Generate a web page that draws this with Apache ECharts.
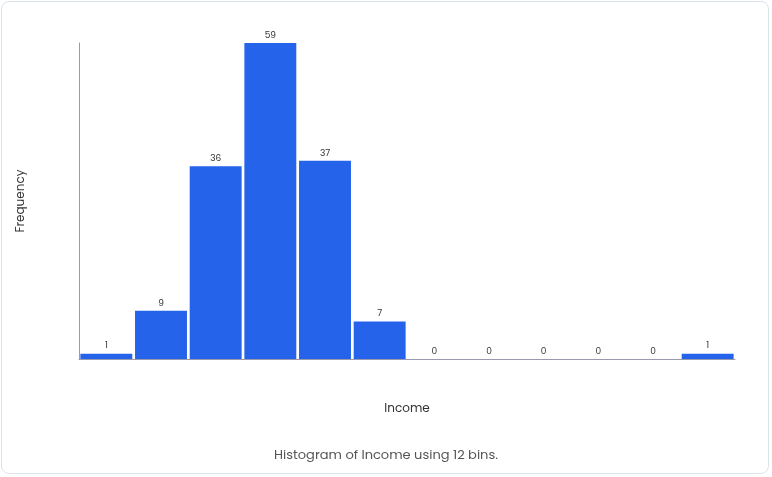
<!DOCTYPE html>
<html><head><meta charset="utf-8">
<script src="https://cdn.jsdelivr.net/npm/echarts@6/dist/echarts.min.js"></script>
<style>
html,body{margin:0;padding:0;background:#fff;}
#card{position:absolute;left:1px;top:1px;width:768px;height:473px;border:1px solid #dde3ea;border-radius:8px;box-sizing:border-box;}
#c{position:absolute;left:0;top:0;width:772px;height:477px;}
</style></head><body>
<div id="card"></div>
<div id="c"></div>
<script>
const categories = ['b1','b2','b3','b4','b5','b6','b7','b8','b9','b10','b11','b12'];
const frequencies = [1,9,36,59,37,7,0,0,0,0,0,1];
const xTitle = 'Income';
const yTitle = 'Frequency';
const caption = 'Histogram of Income using 12 bins.';
const font = 'Poppins, Inter, "Noto Sans", sans-serif';
const chart = echarts.init(document.getElementById('c'));
chart.setOption({
  animation:false,
  grid:{left:79,right:37,top:43,bottom:118},
  title:{text:caption,left:'center',top:444,textStyle:{fontSize:13,fontWeight:'normal',color:'#555',fontFamily:font}},
  xAxis:{type:'category',data:categories,name:xTitle,nameLocation:'middle',nameGap:44,
    nameTextStyle:{fontSize:12,color:'#333',fontFamily:font},
    axisLine:{lineStyle:{color:'#9a9aae'}},axisTick:{show:false},axisLabel:{show:false}},
  yAxis:{type:'value',min:0,max:59,name:yTitle,nameLocation:'middle',nameGap:52,
    nameTextStyle:{fontSize:12,color:'#333',fontFamily:font},
    axisLine:{show:true,lineStyle:{color:'#9a9aae'}},axisTick:{show:false},axisLabel:{show:false},splitLine:{show:false}},
  series:[{type:'bar',data:frequencies,barCategoryGap:'5%',
    itemStyle:{color:'#2563eb'},
    label:{show:true,position:'top',distance:3,fontSize:9,color:'#333',fontFamily:font}}]
});
</script></body></html>
